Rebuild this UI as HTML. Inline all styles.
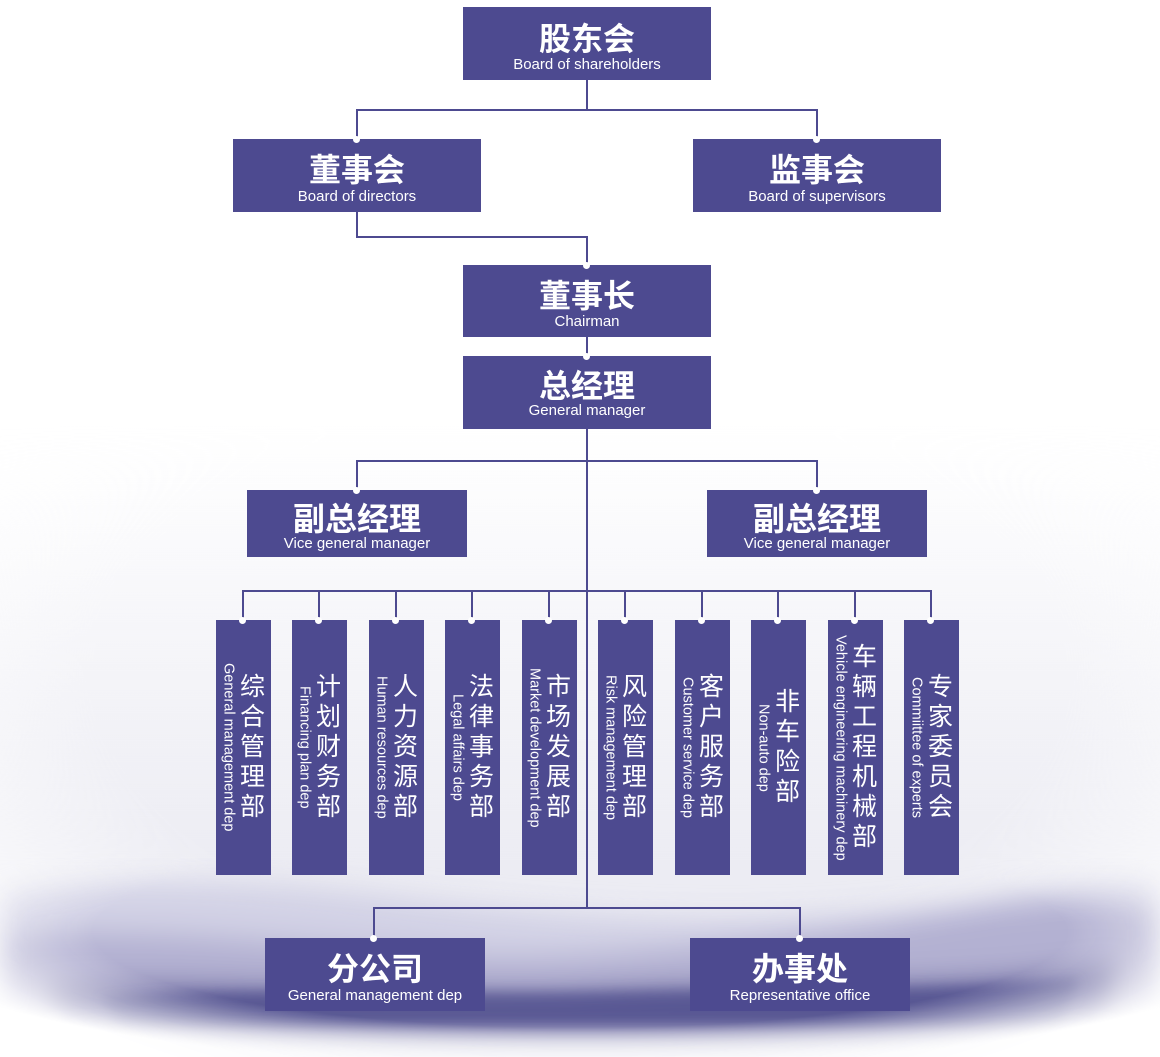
<!DOCTYPE html>
<html><head><meta charset="utf-8"><style>
*{margin:0;padding:0;box-sizing:border-box}
body{width:1160px;height:1057px;position:relative;overflow:hidden;background:#fff;font-family:"Liberation Sans","Noto Sans CJK SC",sans-serif}
.b{position:absolute;background:#4d4a90;color:#fff;text-align:center}
.b .c{font-weight:bold;font-size:32px;line-height:32px;display:block;font-family:"Noto Sans CJK SC","WenQuanYi Zen Hei",sans-serif}
.b .e{font-size:15px;line-height:16px;display:block}
.l{position:absolute;background:#4d4a90}
.d{position:absolute;width:7px;height:7px;border-radius:50%;background:#fff}
.v{position:absolute;top:620px;width:55px;height:255px;background:#4d4a90;color:#fff;display:flex;justify-content:center;align-items:center;gap:2px}
.v .e{writing-mode:vertical-rl;font-size:14.5px;line-height:16px;white-space:nowrap}
.v .c{writing-mode:vertical-rl;font-size:25px;line-height:28px;letter-spacing:5px;font-family:"Noto Sans CJK SC","WenQuanYi Zen Hei",sans-serif;order:2}
</style></head><body>
<svg style="position:absolute;left:0;top:0" width="1160" height="1057">
<defs>
<filter id="bl" x="-20%" y="-50%" width="140%" height="200%"><feGaussianBlur stdDeviation="14"/></filter>
<filter id="bl2" x="-20%" y="-50%" width="140%" height="200%"><feGaussianBlur stdDeviation="6"/></filter>
<linearGradient id="g1" x1="0" y1="0" x2="0" y2="1"><stop offset="0" stop-color="#ececf3" stop-opacity="0"/><stop offset=".7" stop-color="#ececf3"/><stop offset="1" stop-color="#ececf3"/></linearGradient>
<radialGradient id="m" cx=".5" cy=".45" r=".6"><stop offset=".7" stop-color="#fff"/><stop offset="1" stop-color="#000"/></radialGradient>
<radialGradient id="m2" cx=".5" cy=".4" r=".7"><stop offset=".6" stop-color="#fff"/><stop offset="1" stop-color="#000"/></radialGradient>
<mask id="mk"><rect x="0" y="830" width="1160" height="227" fill="url(#m)"/></mask>
<mask id="mk2"><rect x="0" y="420" width="1160" height="637" fill="url(#m2)"/></mask>
</defs>
<rect x="0" y="420" width="1160" height="637" fill="url(#g1)" mask="url(#mk2)"/>
<g mask="url(#mk)">
<g filter="url(#bl)">
<path d="M0 890 C120 875 260 880 420 900 C600 920 760 925 900 910 C1000 900 1100 875 1160 875 L1160 1040 L0 1040Z" fill="#d2d1e5"/>
<path d="M0 935 C150 925 300 945 450 955 C600 965 800 935 1000 905 C1080 895 1130 900 1160 905 L1160 1030 L0 1030Z" fill="#b3b1d2"/>
<path d="M40 990 C200 975 400 1000 600 990 C800 980 950 990 1120 965 L1110 1035 L60 1035Z" fill="#66639f"/>
</g>
<path d="M100 1000 C250 985 400 995 600 992 C800 988 950 990 1080 980 L1060 1025 L120 1025Z" fill="#4a4888" opacity=".6" filter="url(#bl2)"/>
</g>
</svg>
<!-- lines -->
<div class="l" style="left:586px;top:80px;width:2px;height:31px"></div>
<div class="l" style="left:356px;top:109px;width:462px;height:2px"></div>
<div class="l" style="left:356px;top:109px;width:2px;height:30px"></div>
<div class="l" style="left:816px;top:109px;width:2px;height:30px"></div>
<div class="l" style="left:356px;top:211px;width:2px;height:27px"></div>
<div class="l" style="left:356px;top:236px;width:232px;height:2px"></div>
<div class="l" style="left:586px;top:236px;width:2px;height:29px"></div>
<div class="l" style="left:586px;top:336px;width:2px;height:20px"></div>
<div class="l" style="left:586px;top:428px;width:2px;height:481px"></div>
<div class="l" style="left:356px;top:460px;width:462px;height:2px"></div>
<div class="l" style="left:356px;top:460px;width:2px;height:30px"></div>
<div class="l" style="left:816px;top:460px;width:2px;height:30px"></div>
<div class="l" style="left:242px;top:590px;width:690px;height:2px"></div>
<div class="l" style="left:242px;top:590px;width:2px;height:30px"></div>
<div class="l" style="left:318px;top:590px;width:2px;height:30px"></div>
<div class="l" style="left:395px;top:590px;width:2px;height:30px"></div>
<div class="l" style="left:471px;top:590px;width:2px;height:30px"></div>
<div class="l" style="left:548px;top:590px;width:2px;height:30px"></div>
<div class="l" style="left:624px;top:590px;width:2px;height:30px"></div>
<div class="l" style="left:701px;top:590px;width:2px;height:30px"></div>
<div class="l" style="left:777px;top:590px;width:2px;height:30px"></div>
<div class="l" style="left:854px;top:590px;width:2px;height:30px"></div>
<div class="l" style="left:930px;top:590px;width:2px;height:30px"></div>
<div class="l" style="left:373px;top:907px;width:428px;height:2px"></div>
<div class="l" style="left:373px;top:907px;width:2px;height:31px"></div>
<div class="l" style="left:799px;top:907px;width:2px;height:31px"></div>
<!-- boxes -->
<div class="b" style="left:463px;top:7px;width:248px;height:73px;padding-top:14px"><span class="c">股东会</span><span class="e" style="margin-top:4px">Board of shareholders</span></div>
<div class="b" style="left:233px;top:139px;width:248px;height:73px;padding-top:13px"><span class="c">董事会</span><span class="e" style="margin-top:5px">Board of directors</span></div>
<div class="b" style="left:693px;top:139px;width:248px;height:73px;padding-top:13px"><span class="c">监事会</span><span class="e" style="margin-top:5px">Board of supervisors</span></div>
<div class="b" style="left:463px;top:265px;width:248px;height:72px;padding-top:13px"><span class="c">董事长</span><span class="e" style="margin-top:4px">Chairman</span></div>
<div class="b" style="left:463px;top:356px;width:248px;height:73px;padding-top:12px"><span class="c">总经理</span><span class="e" style="margin-top:3px">General manager</span></div>
<div class="b" style="left:247px;top:490px;width:220px;height:67px;padding-top:11px"><span class="c">副总经理</span><span class="e" style="margin-top:3px">Vice general manager</span></div>
<div class="b" style="left:707px;top:490px;width:220px;height:67px;padding-top:11px"><span class="c">副总经理</span><span class="e" style="margin-top:3px">Vice general manager</span></div>
<div class="b" style="left:265px;top:938px;width:220px;height:73px;padding-top:13px"><span class="c">分公司</span><span class="e" style="margin-top:5px">General management dep</span></div>
<div class="b" style="left:690px;top:938px;width:220px;height:73px;padding-top:13px"><span class="c">办事处</span><span class="e" style="margin-top:5px">Representative office</span></div>
<!-- departments -->
<div class="v" style="left:216px"><span class="c">综合管理部</span><span class="e">General management dep</span></div>
<div class="v" style="left:292px"><span class="c">计划财务部</span><span class="e">Financing plan dep</span></div>
<div class="v" style="left:369px"><span class="c">人力资源部</span><span class="e">Human resources dep</span></div>
<div class="v" style="left:445px"><span class="c">法律事务部</span><span class="e">Legal affairs dep</span></div>
<div class="v" style="left:522px"><span class="c">市场发展部</span><span class="e">Market development dep</span></div>
<div class="v" style="left:598px"><span class="c">风险管理部</span><span class="e">Risk management dep</span></div>
<div class="v" style="left:675px"><span class="c">客户服务部</span><span class="e">Customer service dep</span></div>
<div class="v" style="left:751px"><span class="c">非车险部</span><span class="e">Non-auto dep</span></div>
<div class="v" style="left:828px"><span class="c">车辆工程机械部</span><span class="e">Vehicle engineering machinery dep</span></div>
<div class="v" style="left:904px"><span class="c">专家委员会</span><span class="e">Commiittee of experts</span></div>
<!-- dots -->
<div class="d" style="left:353px;top:136px"></div><div class="d" style="left:813px;top:136px"></div>
<div class="d" style="left:583px;top:262px"></div><div class="d" style="left:583px;top:353px"></div>
<div class="d" style="left:353px;top:487px"></div><div class="d" style="left:813px;top:487px"></div>
<div class="d" style="left:239px;top:617px"></div><div class="d" style="left:315px;top:617px"></div>
<div class="d" style="left:392px;top:617px"></div><div class="d" style="left:468px;top:617px"></div>
<div class="d" style="left:545px;top:617px"></div><div class="d" style="left:621px;top:617px"></div>
<div class="d" style="left:698px;top:617px"></div><div class="d" style="left:774px;top:617px"></div>
<div class="d" style="left:851px;top:617px"></div><div class="d" style="left:927px;top:617px"></div>
<div class="d" style="left:370px;top:935px"></div><div class="d" style="left:796px;top:935px"></div>
</body></html>
